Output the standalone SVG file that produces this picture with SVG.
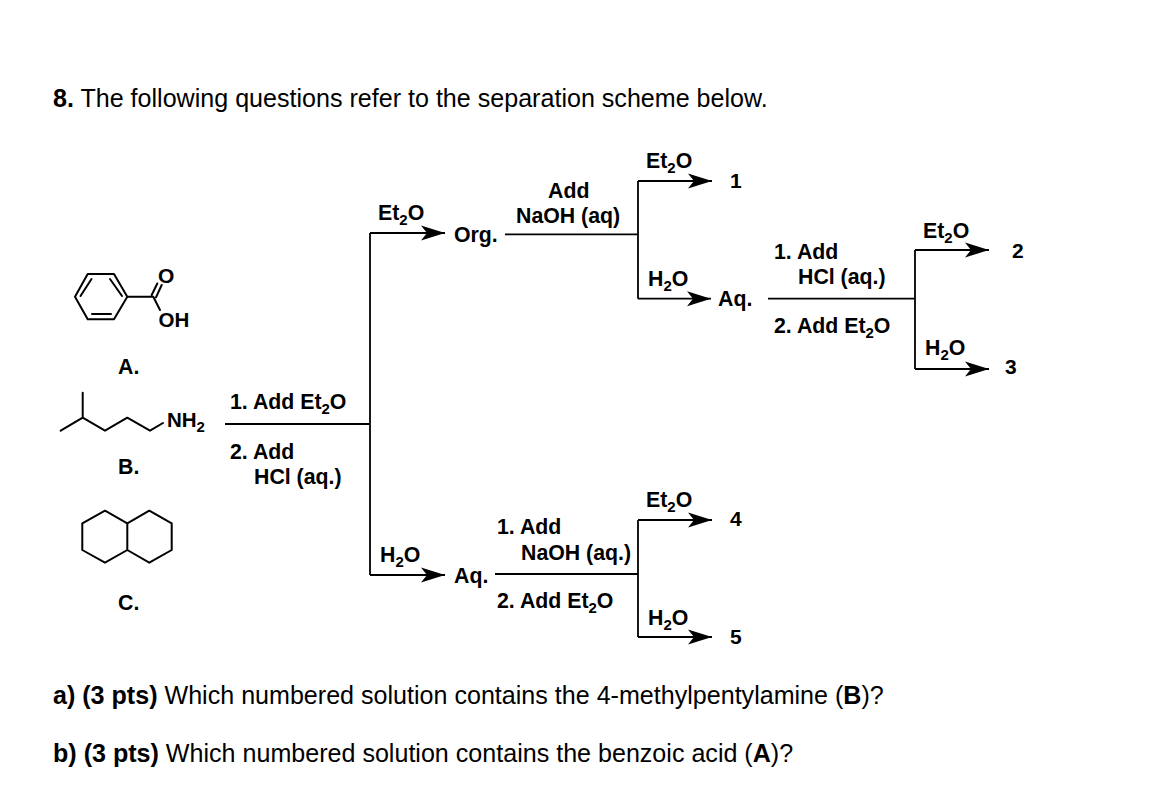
<svg xmlns="http://www.w3.org/2000/svg" width="1167" height="803" viewBox="0 0 1167 803">
<defs>
<marker id="ah" markerUnits="userSpaceOnUse" markerWidth="26" markerHeight="18" refX="24" refY="9" orient="auto"><path d="M0 1.5 L24 9 L0 16.5 L6 9 Z" fill="#000"/></marker>
</defs>
<style>
text{font-family:"Liberation Sans",Arial,sans-serif;fill:#000}
.q{font-size:25.08px}
.b{font-weight:bold}
.l{font-size:21.3px;font-weight:bold}
.n{font-size:20.5px}
.d{font-size:21px}
.s{font-size:15px;font-weight:bold}
.c{fill:none;stroke:#000;stroke-width:1.8}
.m{fill:none;stroke:#000;stroke-width:2;stroke-linejoin:round;stroke-linecap:round}
</style>
<rect width="1167" height="803" fill="#fff"/>
<g id="question"><text class="q" x="53" y="107"><tspan class="b">8.</tspan> The following questions refer to the separation scheme below.</text></g>
<g id="molecule-A">
<path class="m" d="M75 296.7L87.7 274H114L127.3 296.7L114 319.3H87.7ZM92 314H111M80.5 296L91.5 279M110 279L122 296M127.3 296.7H153.3L160 310M151.7 295L157.3 283.5M156 297.3L161.7 285"/>
<text class="l" x="158" y="283" style="font-size:21px">O</text><text class="l n" x="158.5" y="327">OH</text>
<text class="l" x="118" y="374">A.</text></g>
<g id="molecule-B">
<path class="m" d="M60.7 430.7L82.7 417.7V392.7M82.7 417.7L105 430.7L127.3 417.7L150 430.7L163 423"/>
<text class="l n" x="167" y="427">NH<tspan class="s" dy="5">2</tspan></text>
<text class="l" x="118" y="474">B.</text></g>
<g id="molecule-C">
<path class="m" d="M82.3 523.3L105 510.7L127.3 523.3V550L105 562.7L82.3 550ZM127.3 523.3L149.3 510.7L171.7 523.3V550L149.3 562.7L127.3 550"/>
<text class="l" x="118" y="610">C.</text></g>
<g id="connectors">
<path class="c" d="M225 424H370M370 233V575M505 234.3H638M638 181V298.7M495 574H638M638 520V637M768 298.7H915M915 250V369"/>
<path class="c" marker-end="url(#ah)" d="M370 233H445"/>
<path class="c" marker-end="url(#ah)" d="M370 575H445"/>
<path class="c" marker-end="url(#ah)" d="M638 181H712"/>
<path class="c" marker-end="url(#ah)" d="M638 298.7H711"/>
<path class="c" marker-end="url(#ah)" d="M638 520H712"/>
<path class="c" marker-end="url(#ah)" d="M638 637H712"/>
<path class="c" marker-end="url(#ah)" d="M915 250H989"/>
<path class="c" marker-end="url(#ah)" d="M915 369H989"/>
</g>
<g id="step-1"><text class="l" x="230" y="409">1. Add Et<tspan class="s" dy="5">2</tspan><tspan dy="-5">O</tspan></text><text class="l" x="230" y="459">2. Add</text><text class="l" x="254" y="484">HCl (aq.)</text></g>
<g id="org"><text class="l" x="378" y="220">Et<tspan class="s" dy="5">2</tspan><tspan dy="-5">O</tspan></text><text class="l" x="454" y="242">Org.</text></g>
<g id="aq-lower"><text class="l" x="380" y="562">H<tspan class="s" dy="5">2</tspan><tspan dy="-5">O</tspan></text><text class="l" x="454" y="583">Aq.</text></g>
<g id="step-2"><text class="l" x="548" y="198">Add</text><text class="l" x="516" y="223">NaOH (aq)</text></g>
<g id="node-1"><text class="l" x="646" y="168">Et<tspan class="s" dy="5">2</tspan><tspan dy="-5">O</tspan></text><text class="l d" x="730" y="188">1</text></g>
<g id="aq-upper"><text class="l" x="648" y="286">H<tspan class="s" dy="5">2</tspan><tspan dy="-5">O</tspan></text><text class="l" x="718" y="306">Aq.</text></g>
<g id="step-3"><text class="l" x="774" y="259">1. Add</text><text class="l" x="798" y="284">HCl (aq.)</text><text class="l" x="774" y="333">2. Add Et<tspan class="s" dy="5">2</tspan><tspan dy="-5">O</tspan></text></g>
<g id="node-2"><text class="l" x="923" y="238">Et<tspan class="s" dy="5">2</tspan><tspan dy="-5">O</tspan></text><text class="l d" x="1012" y="258">2</text></g>
<g id="node-3"><text class="l" x="925" y="355">H<tspan class="s" dy="5">2</tspan><tspan dy="-5">O</tspan></text><text class="l d" x="1005" y="374">3</text></g>
<g id="step-4"><text class="l" x="497" y="534">1. Add</text><text class="l" x="521" y="560">NaOH (aq.)</text><text class="l" x="497" y="608">2. Add Et<tspan class="s" dy="5">2</tspan><tspan dy="-5">O</tspan></text></g>
<g id="node-4"><text class="l" x="646" y="507">Et<tspan class="s" dy="5">2</tspan><tspan dy="-5">O</tspan></text><text class="l d" x="730" y="526">4</text></g>
<g id="node-5"><text class="l" x="648" y="625">H<tspan class="s" dy="5">2</tspan><tspan dy="-5">O</tspan></text><text class="l d" x="730" y="644">5</text></g>
<g id="questions"><text class="q" x="53" y="704"><tspan class="b">a) (3 pts)</tspan> Which numbered solution contains the 4-methylpentylamine (<tspan class="b">B</tspan>)?</text>
<text class="q" x="53" y="762"><tspan class="b">b) (3 pts)</tspan> Which numbered solution contains the benzoic acid (<tspan class="b">A</tspan>)?</text></g>
</svg>
